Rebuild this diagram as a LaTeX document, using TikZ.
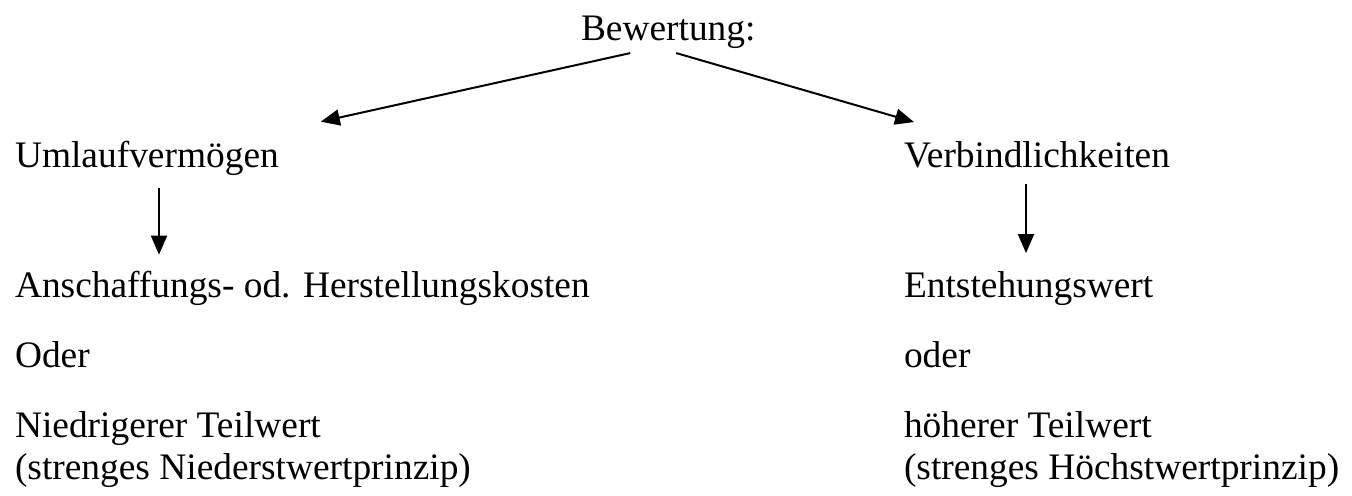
\documentclass[tikz,border=0pt]{standalone}
\usepackage{fontspec}
\setmainfont{Liberation Serif}
\usetikzlibrary{positioning,arrows.meta}

\begin{document}
\begin{tikzpicture}[node distance=35pt, on grid, >={Triangle[length=9.5pt,width=8pt]}, line width=1pt]
\tikzstyle{every node}=[font=\fontsize{18.7pt}{21pt}\selectfont, inner sep=0pt, anchor=base west]
\useasboundingbox (0,0) rectangle (676pt,-247.5pt);
   \node(bewertung) at (290pt,-20pt){Bewertung:};
   \node(umlauf) at (7pt,-83.5pt){Umlaufvermögen};
   \node(verbind) at (451.5pt,-83.5pt){Verbindlichkeiten};
   \node(anschaffung)[below=65pt of umlauf.base west, anchor=base west]{Anschaffungs- od. Herstellungskosten};
   \node(oderL)[below=of anschaffung.base west, anchor=base west]{Oder};
   \node(niedrig)[below=56pt of oderL.base west, anchor=base west, align=left]{Niedrigerer Teilwert\\(strenges Niederstwertprinzip)};
   \node(entstehung)[below=65pt of verbind.base west, anchor=base west]{Entstehungswert};
   \node(oderR)[below=of entstehung.base west, anchor=base west]{oder};
   \node(hoeher)[below=56pt of oderR.base west, anchor=base west, align=left]{höherer Teilwert\\(strenges Höchstwertprinzip)};
   \path[->]([xshift=-19pt,yshift=-2pt]bewertung.south) edge ([xshift=20.5pt,yshift=9pt]umlauf.north east);
   \path[->]([xshift=4pt,yshift=-2pt]bewertung.south) edge ([xshift=5.5pt,yshift=9pt]verbind.north west);
   \path[->]([xshift=72.5pt,yshift=-6pt]umlauf.south west) edge ([xshift=72.5pt,yshift=7.5pt]anschaffung.north west);
   \path[->]([xshift=61.5pt,yshift=-7.5pt]verbind.south west) edge ([xshift=61.5pt,yshift=8.5pt]entstehung.north west);
\end{tikzpicture}
\end{document}
